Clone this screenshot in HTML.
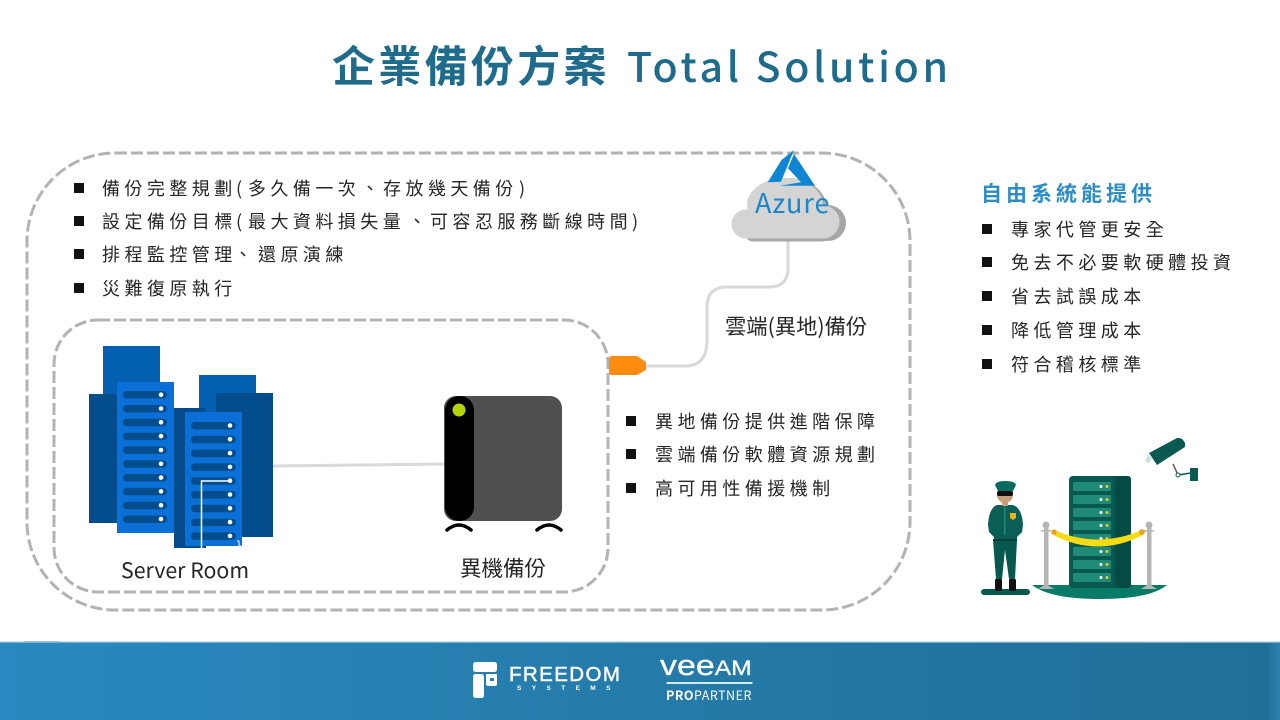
<!DOCTYPE html>
<html><head><meta charset="utf-8">
<style>
html,body{margin:0;padding:0;background:#fff}
#p{position:relative;width:1280px;height:720px;overflow:hidden;background:#fff;font-family:"Liberation Sans","Noto Sans CJK TC",sans-serif}
.t{position:absolute;white-space:nowrap;font-family:"Noto Sans CJK TC","Liberation Sans",sans-serif;line-height:1}
.l{font-size:18px;letter-spacing:4.45px;color:#262626}
.b{position:absolute;width:10px;height:10px;background:#111}
svg{position:absolute;left:0;top:0}
</style></head><body><div id="p">
<svg width="1280" height="720" viewBox="0 0 1280 720">
<defs><linearGradient id="g" x1="0" x2="1" y1="0" y2="0"><stop offset="0" stop-color="#2a89c0"/><stop offset=".5" stop-color="#247ba9"/><stop offset=".99" stop-color="#216f98"/><stop offset="1" stop-color="#2d83b4"/></linearGradient></defs>
<rect x="27" y="153" width="883" height="457" rx="88" fill="none" stroke="#b3b3b3" stroke-width="3" stroke-dasharray="12 4"/>
<rect x="54" y="320" width="554" height="272" rx="44" fill="none" stroke="#b3b3b3" stroke-width="3" stroke-dasharray="12 4"/>
<path d="M788 240V268Q788 287 769 287H727Q707 287 707 307V340Q707 366 685 366H640" fill="none" stroke="#d9d9d9" stroke-width="3"/>
<path d="M270 466L446 464" stroke="#d9d9d9" stroke-width="3" fill="none"/>
<path d="M612 356H637L646 362V370L637 375H612Q609 375 609 372V359Q609 356 612 356Z" fill="#ff8c0f"/>
<!-- cloud -->
<g fill="#a6a6a6"><circle cx="828" cy="223" r="18"/><rect x="745" y="224" width="85" height="17.500" rx="8"/><ellipse cx="788" cy="206" rx="38" ry="28"/></g>
<g fill="#d4d4d4"><circle cx="746" cy="224" r="14.500" /><circle cx="823" cy="222" r="16.500"/><ellipse cx="785" cy="205" rx="38" ry="27"/><rect x="745" y="215" width="80" height="23.500" rx="2"/></g>
<path d="M781.500 160L794 150L781 181.700L767.700 182.300Z" fill="#0e86d4"/>
<path d="M794 154L815 185.700H780L801 182.300L788 168.300Z" fill="#0e86d4"/>
<!-- buildings -->
<rect x="103" y="346" width="57" height="50" fill="#0460b0"/>
<rect x="199" y="375" width="57" height="40" fill="#0460b0"/>
<rect x="89" y="394" width="30" height="129" fill="#034d8c"/>
<rect x="216" y="393" width="57" height="144" fill="#034d8c"/>
<rect x="174" y="408" width="32" height="140" fill="#034d8c"/>
<rect x="117" y="382" width="57" height="151" fill="#0a70d8"/>
<rect x="185" y="412" width="57" height="134" fill="#0a70d8"/>
<g fill="#034d8c">
<rect x="123" y="391" width="44" height="7.5" rx="3.7"/><rect x="123" y="405" width="44" height="7.5" rx="3.7"/><rect x="123" y="418.700" width="44" height="7.5" rx="3.7"/><rect x="123" y="432.600" width="44" height="7.5" rx="3.7"/><rect x="123" y="446.400" width="44" height="7.5" rx="3.7"/><rect x="123" y="460.200" width="44" height="7.5" rx="3.7"/><rect x="123" y="474" width="44" height="7.5" rx="3.7"/><rect x="123" y="487.900" width="44" height="7.5" rx="3.7"/><rect x="123" y="501.700" width="44" height="7.5" rx="3.7"/><rect x="123" y="515.500" width="44" height="7.5" rx="3.7"/>
<rect x="191" y="422" width="45" height="7.5" rx="3.7"/><rect x="191" y="435.800" width="45" height="7.5" rx="3.7"/><rect x="191" y="449.600" width="45" height="7.5" rx="3.7"/><rect x="191" y="463.400" width="45" height="7.5" rx="3.7"/><rect x="191" y="477.200" width="45" height="7.5" rx="3.7"/><rect x="191" y="491" width="45" height="7.5" rx="3.7"/><rect x="191" y="504.800" width="45" height="7.5" rx="3.7"/><rect x="191" y="518.600" width="45" height="7.5" rx="3.7"/><rect x="191" y="532.400" width="45" height="7.5" rx="3.7"/>
</g>
<g fill="#fff">
<circle cx="161" cy="394.700" r="2.300"/><circle cx="161" cy="408.500" r="2.300"/><circle cx="161" cy="422.300" r="2.300"/><circle cx="161" cy="436.100" r="2.300"/><circle cx="161" cy="450" r="2.300"/><circle cx="161" cy="463.800" r="2.300"/><circle cx="161" cy="477.600" r="2.300"/><circle cx="161" cy="491.400" r="2.300"/><circle cx="161" cy="505.200" r="2.300"/><circle cx="161" cy="519" r="2.300"/>
<circle cx="230" cy="425.500" r="2.300"/><circle cx="230" cy="439.300" r="2.300"/><circle cx="230" cy="453.100" r="2.300"/><circle cx="230" cy="466.900" r="2.300"/><circle cx="230" cy="480.700" r="2.300"/><circle cx="230" cy="494.500" r="2.300"/><circle cx="230" cy="508.300" r="2.300"/><circle cx="230" cy="522.100" r="2.300"/><circle cx="230" cy="535.900" r="2.300"/>
</g>
<path d="M230 481H201.500V549" fill="none" stroke="#fff" stroke-width="1.500"/>
<path d="M237 541H239V546H241" fill="none" stroke="#fff" stroke-width="1"/>
<!-- device -->
<rect x="444" y="396" width="118" height="125" rx="12" fill="#505050"/>
<rect x="445" y="396" width="29" height="125" rx="14" fill="#000"/>
<circle cx="459" cy="410" r="6.500" fill="#b4d40c"/>
<path d="M447 530Q459 520 471 530M537 530Q549 520 561 530" fill="none" stroke="#000" stroke-width="3.500" stroke-linecap="round"/>
<!-- guard scene -->
<path d="M1032 585H1167Q1150 599 1100 599Q1050 599 1032 585Z" fill="#077a68"/>
<rect x="1069" y="476" width="62" height="112" rx="4" fill="#07584f"/>
<rect x="1115" y="476" width="16" height="112" rx="3" fill="#064a44"/>
<g fill="#1f8a76">
<rect x="1073" y="482" width="38" height="9" rx="1"/><rect x="1073" y="495" width="38" height="9" rx="1"/><rect x="1073" y="508" width="38" height="9" rx="1"/><rect x="1073" y="521" width="38" height="9" rx="1"/><rect x="1073" y="534" width="38" height="9" rx="1"/><rect x="1073" y="547" width="38" height="9" rx="1"/><rect x="1073" y="560" width="38" height="9" rx="1"/><rect x="1073" y="573" width="38" height="9" rx="1"/>
</g>
<g fill="#fff"><circle cx="1101" cy="486.500" r="1.500"/><circle cx="1101" cy="499.500" r="1.500"/><circle cx="1101" cy="512.500" r="1.500"/><circle cx="1101" cy="525.500" r="1.500"/><circle cx="1101" cy="538.500" r="1.500"/><circle cx="1101" cy="551.500" r="1.500"/><circle cx="1101" cy="564.500" r="1.500"/><circle cx="1101" cy="577.500" r="1.500"/></g>
<g fill="#e8c52c"><circle cx="1107" cy="486.500" r="1.500"/><circle cx="1107" cy="499.500" r="1.500"/><circle cx="1107" cy="512.500" r="1.500"/><circle cx="1107" cy="525.500" r="1.500"/><circle cx="1107" cy="538.500" r="1.500"/><circle cx="1107" cy="551.500" r="1.500"/><circle cx="1107" cy="564.500" r="1.500"/><circle cx="1107" cy="577.500" r="1.500"/></g>
<g fill="#b5b5b5">
<rect x="1044" y="527" width="4.500" height="59"/><rect x="1147" y="527" width="4.500" height="59"/>
<circle cx="1046" cy="525" r="3.500"/><circle cx="1149" cy="525" r="3.500"/>
<rect x="1041" y="530" width="10" height="1.500"/><rect x="1144" y="530" width="10" height="1.500"/>
<path d="M1038 589L1046 584L1054 589ZM1141 589L1149 584L1157 589Z"/>
</g>
<path d="M1054 530Q1098 549 1142 530L1143 535Q1098 558 1053 535Z" fill="#f5dc14"/>
<circle cx="1054" cy="532" r="2.800" fill="#e8a020"/><circle cx="1142" cy="532" r="2.800" fill="#e8a020"/>
<!-- guard -->
<rect x="981" y="589" width="49" height="6" rx="3" fill="#07584f"/>
<path d="M993 540H1017L1015 579H1009L1005 550L1002 579H996Z" fill="#07584f"/>
<rect x="995" y="579" width="7" height="12" rx="1" fill="#111"/><rect x="1009" y="579" width="7" height="12" rx="1" fill="#111"/>
<path d="M997 505L1013 505Q1022 508 1023 525L1022 532L1017 537V541H994V537L989 532L988 525Q989 508 997 505Z" fill="#0a5e55"/>
<rect x="993" y="539" width="24" height="2" fill="#043f3a"/>
<rect x="1004" y="505" width="1.500" height="30" fill="#1f8a76"/>
<path d="M1010 513H1016V518L1013 520L1010 518Z" fill="#e8b520"/>
<rect x="1002" y="500" width="6" height="6" fill="#c7a07c"/>
<ellipse cx="1005" cy="495" rx="8" ry="8" fill="#c7a07c"/>
<rect x="997" y="491" width="16" height="5" rx="2" fill="#111"/>
<path d="M995 485Q996 481 1005 481Q1015 481 1016 485L1013 491H998Z" fill="#0a6a5e"/>
<!-- camera -->
<path d="M1149 453L1177 438Q1182 437 1185 443V447L1157 465Z" fill="#0b5a52"/>
<path d="M1148 455L1145 461L1149 463.500L1152 458Z" fill="#cfe0dc"/>
<path d="M1173 464L1178 475" fill="none" stroke="#6a5650" stroke-width="1.500"/>
<path d="M1178 475L1191 473" fill="none" stroke="#0b5a52" stroke-width="1.500"/>
<circle cx="1178" cy="475" r="2" fill="#fff" stroke="#0b5a52"/>
<rect x="1190" y="468" width="8" height="13" fill="#0b5a52"/>
<!-- footer -->
<rect x="0" y="642" width="1280" height="78" fill="url(#g)"/>
<rect x="0" y="641.500" width="1280" height="1.200" fill="#9cc4da"/>
<rect x="24" y="641" width="36" height="1" fill="#a8cadb"/>
<!-- freedom logo -->
<g fill="#fff">
<rect x="473" y="662" width="24" height="10" rx="2.500"/>
<rect x="473" y="674" width="11" height="24" rx="2.500"/>
<path d="M486 674H497V684Q497 686 495 686H488Q486 686 486 684Z"/>
<rect x="490" y="678" width="4" height="3" fill="#2a7fb0"/>
</g>
<rect x="666.500" y="682" width="86" height="2" fill="#d6e8f2"/>
</svg>
<div class="t" style="left:332px;top:43px;font-size:43px;font-weight:700;letter-spacing:3.300px;color:#1f6b8c">企業備份方案</div>
<div class="t" style="left:627px;top:44px;font-size:41px;font-weight:500;letter-spacing:3.700px;color:#1f6b8c">Total Solution</div>

<div class="b" style="left:74px;top:183px"></div><div class="t l" style="left:102px;top:179px">備份完整規劃</div><div class="t l" style="left:236px;top:179px">(</div><div class="t l" style="left:248px;top:179px">多久備一次</div><div class="t l" style="left:361px;top:179px">、</div><div class="t l" style="left:383px;top:179px">存放幾天備份</div><div class="t l" style="left:519px;top:179px">)</div>
<div class="b" style="left:74px;top:216px"></div><div class="t l" style="left:102px;top:212px">設定備份目標</div><div class="t l" style="left:236px;top:212px">(</div><div class="t l" style="left:248px;top:212px">最大資料損失量</div><div class="t l" style="left:408px;top:212px">、</div><div class="t l" style="left:430px;top:212px">可容忍服務斷線時間</div><div class="t l" style="left:632px;top:212px">)</div>
<div class="b" style="left:74px;top:249px"></div><div class="t l" style="left:102px;top:245px">排程監控管理</div><div class="t l" style="left:234px;top:245px">、</div><div class="t l" style="left:258px;top:245px">還原演練</div>
<div class="b" style="left:74px;top:283px"></div><div class="t l" style="left:102px;top:279px">災難復原執行</div>

<div class="t" style="left:981px;top:183px;font-size:21px;font-weight:700;letter-spacing:4px;color:#2e8ec4">自由系統能提供</div>
<div class="b" style="left:982px;top:224px"></div><div class="t l" style="left:1011px;top:220px">專家代管更安全</div>
<div class="b" style="left:982px;top:257px"></div><div class="t l" style="left:1011px;top:253px">免去不必要軟硬體投資</div>
<div class="b" style="left:982px;top:291px"></div><div class="t l" style="left:1011px;top:287px">省去試誤成本</div>
<div class="b" style="left:982px;top:325px"></div><div class="t l" style="left:1011px;top:321px">降低管理成本</div>
<div class="b" style="left:982px;top:359px"></div><div class="t l" style="left:1011px;top:355px">符合稽核標準</div>

<div class="b" style="left:626px;top:416px"></div><div class="t l" style="left:655px;top:412px">異地備份提供進階保障</div>
<div class="b" style="left:626px;top:449px"></div><div class="t l" style="left:655px;top:445px">雲端備份軟體資源規劃</div>
<div class="b" style="left:626px;top:483px"></div><div class="t l" style="left:655px;top:479px">高可用性備援機制</div>

<div class="t" style="left:725px;top:315px;font-size:21.300px;color:#262626">雲端(異地)備份</div>
<div class="t" style="left:121px;top:559px;font-size:21.300px;color:#262626">Server Room</div>
<div class="t" style="left:460px;top:557px;font-size:21.500px;color:#262626">異機備份</div>
<div class="t" style="left:755px;top:188px;font-size:27px;letter-spacing:1px;color:#1b86c8">Azure</div>

<div class="t" style="left:509px;top:665px;font-family:'Liberation Sans',sans-serif;font-size:20.500px;color:#fff;letter-spacing:1.400px;-webkit-text-stroke:.5px #fff">FREEDOM</div>
<div class="t" style="left:517px;top:686px;font-family:'Liberation Sans',sans-serif;font-size:6.500px;font-weight:700;letter-spacing:10.400px;color:#fff">SYSTEMS</div>
<div class="t" style="left:660px;top:652px;font-family:'Liberation Sans',sans-serif;color:#fff;transform:scaleX(1.17);transform-origin:left;line-height:29px;-webkit-text-stroke:.3px #fff"><span style="font-size:29px">vee</span><span style="font-size:21px">AM</span></div>
<div class="t" style="left:666px;top:689px;font-size:12.500px;color:#fff;letter-spacing:.5px"><b>PRO</b>PARTNER</div>
</div></body></html>
